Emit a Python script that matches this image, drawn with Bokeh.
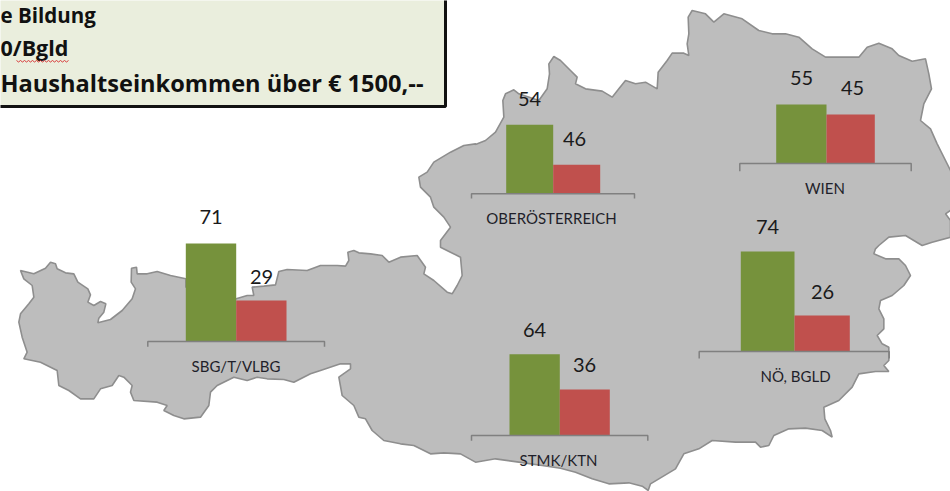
from bokeh.plotting import figure
from bokeh.models import Range1d, ColumnDataSource
from bokeh.core.properties import value
from bokeh.embed import file_html
from bokeh.resources import INLINE

# ---- data
regions = ["SBG/T/VLBG", "OBERÖSTERREICH", "WIEN", "STMK/KTN", "NÖ, BGLD"]
green_values = [71, 54, 55, 64, 74]
red_values = [29, 46, 45, 36, 26]
heading_lines = ["e Bildung", "0/Bgld", "Haushaltseinkommen über € 1500,--"]

# ---- heading layout
heading_y = [14.5, 47, 82]
heading_size = ["20.5px", "21.5px", "23.6px"]

# ---- small-multiple layout: every region chart has its own truncated value axis
axis_floor = [-1.2, 40.2, -4.0, -0.5, -1.0]
px_per_unit = [1.357, 5.0, 1.0, 1.26, 1.333]
baseline_px = [341, 193.3, 163, 435, 351]
green_left = [185.3, 505.7, 775.7, 509, 740.3]
green_right = [235.7, 552.7, 826, 559.3, 794]
red_right = [286, 599.7, 874.3, 609.3, 849.3]
axis_left = [147.3, 471, 739.3, 471, 698.7]
axis_right = [324, 634, 910.7, 647.3, 888.7]
tick_bottom = [346.3, 198, 170.7, 440.3, 358]
green_label_xy = [(210.5, 216.5), (529, 98), (801, 77.5), (534, 329.5), (767, 226)]
red_label_xy = [(261, 276), (574, 138), (852, 87), (584, 364.5), (822, 291)]
region_label_xy = [(235.5, 365), (551, 217), (824.5, 187), (558, 459), (795, 375)]

# ---- map outline, traced in crops of 3x enlargement
out_a = [(60,75),(100,85),(135,68),(150,50),(165,55),(170,70),(195,82),(220,85),(232,110),(262,130),(270,148),
 (262,170),(280,180),(300,168),(316,175),(310,200),(295,218),(292,232),(330,222),(365,195),(395,160),(405,130),
 (392,110),(393,68),(408,65),(410,85),(440,85),(470,78),(510,90),(556,100),(556,125),(600,150),(707,160),(740,150),
 (760,150),(755,125),(790,122),(825,118),(835,78),(860,72),(920,75),(960,60),(1010,60),(1035,62),(1045,45),(1042,20),
 (1060,15),(1075,22),(1110,25),(1145,30),(1165,50),(1200,35),(1250,30),(1275,65),(1270,85),(1300,105),(1340,140),
 (1355,145),(1370,120),(1385,90),(1380,35),(1350,20),(1320,5)]
out_b = [(1320,720),(1350,680),(1330,650),(1300,620),(1290,590),(1260,560),(1255,530),(1280,515),(1300,485),(1350,455),
 (1390,435),(1425,430)]
out_c = [(0,432),(30,420),(60,395),(85,350),(82,300),(90,280),(115,268),(130,280),(190,300),(215,265),(222,220),(220,190),
 (235,168),(255,180),(285,210),(305,230),(300,250),(330,265),(380,272),(410,290),(430,265),(450,240),(480,250),(510,245),
 (545,265),(548,215),(575,180),(590,158),(625,158),(640,165),(635,130),(640,100),(638,50),(650,30),(690,40),(715,65),
 (745,40),(800,55),(850,90),(890,100),(930,100),(970,110),(1010,145),(1050,170),(1100,170),(1150,170),(1175,140),
 (1210,128),(1250,145),(1270,165),(1310,182),(1350,175),(1360,220),(1368,265),(1345,310),(1335,360),(1365,385),
 (1385,430),(1425,510),(1440,560),(1440,625),(1425,630),(1410,640),(1425,660),(1425,710),(1370,725),(1340,735),
 (1290,705),(1240,710),(1210,735)]
out_d = [(1200,10),(1195,25),(1230,40),(1270,40),(1290,60),(1305,90),(1285,120),(1250,150),(1215,165),(1210,190),
 (1225,220),(1225,250),(1205,270),(1220,295),(1240,305),(1240,345),(1225,360),(1240,378),(1200,378),(1150,385),
 (1130,425),(1090,465),(1045,485),(1048,520),(1065,555),(1070,575),(1040,555),(990,548),(940,550),(895,570),(880,600),
 (855,605),(840,590),(780,590),(710,585),(670,610),(625,625),(600,670),(550,700),(525,715),(518,735),(500,722),
 (460,712),(400,715),(350,700),(300,680),(255,668),(200,660),(130,650),(60,640),(0,650)]
out_e = [(1380,625),(1330,622),(1290,625),(1240,600),(1200,595),(1150,585),(1115,555),(1095,520),(1075,515),(1060,480),
 (1025,450),(1015,395),(1050,370),(1050,355),(1020,355),(960,375),(930,385),(880,410),(850,402),(800,400),(770,395),
 (740,405),(700,395),(650,420),(630,440),(625,480),(600,515),(550,520),(520,510),(490,495),(500,480),(470,470),
 (400,465),(390,440),(395,420),(370,395),(355,390),(335,420),(300,430),(280,460),(240,460),(205,435),(175,420),
 (170,375),(120,350),(70,340),(80,320),(65,275),(55,230),(60,205),(85,175),(100,155),(95,120),(70,100)]

crops = [(out_a, 0, 245), (out_b, 0, 0), (out_c, 475, 0), (out_d, 475, 245), (out_e, 0, 245)]
map_x, map_y = [], []
for pts, ox, oy in crops:
    for x, y in pts:
        map_x.append(x / 3 + ox)
        map_y.append(y / 3 + oy)

TOP, BOTTOM, LEFT, RIGHT = 0, 491, 0, 950
p = figure(width=RIGHT - LEFT, height=BOTTOM - TOP, output_backend="svg", toolbar_location=None,
           x_range=Range1d(LEFT, RIGHT), y_range=Range1d(BOTTOM, TOP), min_border=0,
           background_fill_color="white", border_fill_color="white", outline_line_color=None)
p.axis.visible = False
p.grid.visible = False

p.patch(map_x, map_y, fill_color="#BDBDBD", line_color="#8E8E8E", line_width=1.6)

# heading box
p.quad(left=[-6], right=[445], top=[-6], bottom=[106], fill_color="#EAEEDD", line_color="#111111", line_width=3)
FONT = value("Lato")
for text, y, size in zip(heading_lines, heading_y, heading_size):
    p.text(x=[0], y=[y], text=[text], text_font=value("Open Sans"), text_font_style="bold", text_font_size=size,
           text_color="#111111", text_align="left", text_baseline="middle")
p.line([16, 18, 20, 22, 24, 26, 28, 30, 32, 34, 36, 38, 40, 42, 44, 46, 48, 50, 52, 54, 56, 58, 60, 62, 64, 66, 68],
       [60, 61.5] * 13 + [60], line_color="#D83A3A", line_width=1)

# region charts: each with its own y scale so the bars come from the values
for i, name in enumerate(regions):
    rng = f"panel{i}"
    base, scale, floor = baseline_px[i], px_per_unit[i], axis_floor[i]
    p.extra_y_ranges[rng] = Range1d(floor + (base - BOTTOM) / scale, floor + (base - TOP) / scale)
    src = ColumnDataSource(dict(
        x=[(green_left[i] + green_right[i]) / 2, (green_right[i] + red_right[i]) / 2],
        w=[green_right[i] - green_left[i], red_right[i] - green_right[i]],
        top=[green_values[i], red_values[i]],
        color=["#76923C", "#C0504D"],
    ))
    p.vbar(x="x", width="w", top="top", bottom=floor, fill_color="color", line_color=None,
           y_range_name=rng, source=src)
    p.line([axis_left[i], axis_left[i], axis_right[i], axis_right[i]],
           [tick_bottom[i], base, base, tick_bottom[i]], line_color="#808080", line_width=1.5)
    for (lx, ly), v in zip([green_label_xy[i], red_label_xy[i]], [green_values[i], red_values[i]]):
        p.text(x=[lx], y=[ly], text=[str(v)], text_font=FONT, text_font_size="20px", text_color="#1A1A1A",
               text_align="center", text_baseline="middle")
    lx, ly = region_label_xy[i]
    p.text(x=[lx], y=[ly], text=[name], text_font=FONT, text_font_size="15px", text_color="#1F1F2A",
           text_align="center", text_baseline="middle")

open("out.html", "w").write(file_html(p, INLINE))
